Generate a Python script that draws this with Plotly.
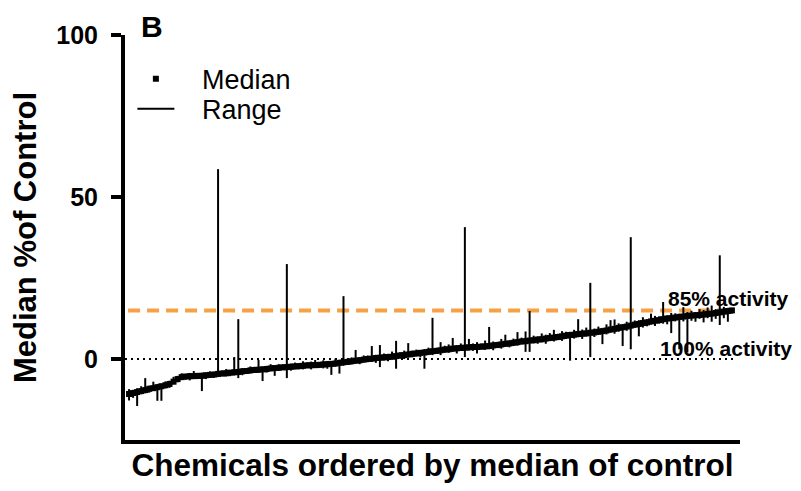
import plotly.graph_objects as go

# ---- data ----
median_pct = [
    -10.8, -10.5, -10.2, -9.9, -9.6, -9.2, -9.0, -8.7, -8.4, -8.1,
    -7.7, -7.0, -6.2, -5.6, -5.4, -5.3, -5.3, -5.2, -5.2, -5.0,
    -4.9, -4.8, -4.6, -4.5, -4.4, -4.2, -4.1, -4.0, -3.8, -3.7,
    -3.5, -3.4, -3.3, -3.2, -3.1, -2.9, -2.8, -2.7, -2.6, -2.5,
    -2.4, -2.3, -2.2, -2.1, -2.0, -1.9, -1.9, -1.8, -1.7, -1.6,
    -1.5, -1.4, -1.2, -1.0, -0.9, -0.7, -0.5, -0.4, -0.2, 0.0,
    0.1, 0.3, 0.4, 0.5, 0.6, 0.7, 0.9, 1.1, 1.2, 1.4,
    1.6, 1.7, 1.9, 2.0, 2.2, 2.4, 2.5, 2.7, 2.9, 3.0,
    3.2, 3.3, 3.4, 3.5, 3.6, 3.7, 3.7, 3.8, 3.9, 4.0,
    4.2, 4.3, 4.5, 4.7, 4.8, 5.0, 5.2, 5.4, 5.5, 5.7,
    5.8, 6.0, 6.1, 6.3, 6.5, 6.6, 6.8, 7.0, 7.2, 7.4,
    7.5, 7.7, 7.8, 7.9, 8.1, 8.2, 8.4, 8.6, 8.8, 9.1,
    9.3, 9.6, 9.8, 10.0, 10.3, 10.6, 10.8, 11.1, 11.3, 11.6,
    11.8, 12.0, 12.3, 12.5, 12.6, 12.8, 13.0, 13.1, 13.3, 13.4,
    13.5, 13.6, 13.7, 13.9, 14.0, 14.2, 14.4, 14.6, 14.8, 15.0,
]

range_above = [
    1.5, 1.0, 1.2, 1.5, 3.7, 1.0, 2.0, 1.0, 0.8, 1.2,
    1.0, 1.5, 1.0, 1.2, 0.8, 1.0, 1.6, 0.9, 1.0, 0.8,
    1.1, 0.9, 63.2, 1.0, 1.3, 0.8, 4.7, 16.3, 1.0, 0.9,
    1.2, 1.0, 3.0, 0.9, 1.0, 1.3, 0.8, 1.1, 1.0, 31.8,
    1.0, 1.2, 0.9, 1.4, 1.0, 1.1, 1.6, 0.9, 1.3, 1.0,
    0.9, 1.5, 1.0, 20.4, 1.0, 1.2, 3.3, 1.0, 1.3, 1.1,
    3.9, 1.0, 3.9, 1.2, 1.0, 1.6, 4.7, 1.0, 1.4, 3.5,
    1.0, 1.2, 0.9, 1.1, 1.3, 10.3, 1.0, 2.5, 1.2, 1.5,
    3.3, 1.0, 1.4, 37.2, 2.6, 1.1, 1.5, 1.0, 1.8, 5.9,
    1.2, 1.0, 1.7, 2.8, 1.0, 1.3, 3.1, 1.2, 3.0, 9.1,
    1.4, 1.0, 1.8, 1.2, 1.5, 2.4, 1.0, 1.6, 1.2, 1.0,
    1.5, 4.6, 1.3, 1.8, 15.4, 1.2, 1.6, 1.0, 1.9, 2.9,
    2.9, 1.4, 1.0, 1.5, 27.3, 1.3, 1.2, 1.8, 1.0, 2.4,
    1.5, 1.2, 5.3, 1.0, 1.6, 1.3, 1.0, 2.9, 1.2, 1.5,
    1.0, 1.8, 1.4, 2.0, 2.5, 1.2, 17.6, 1.5, 1.0, 0.8,
]

range_below = [
    2.0, 1.5, 4.3, 1.0, 1.0, 1.2, 0.8, 4.2, 4.5, 1.0,
    1.2, 0.8, 1.0, 0.9, 1.0, 1.3, 0.8, 1.0, 4.7, 1.2,
    0.9, 1.0, 1.0, 0.8, 1.0, 1.1, 1.0, 1.9, 1.2, 0.8,
    1.0, 0.9, 1.0, 3.6, 1.1, 0.9, 2.4, 1.0, 0.8, 3.4,
    1.2, 0.9, 1.0, 1.1, 0.8, 1.3, 0.9, 1.0, 1.2, 1.4,
    3.4, 1.0, 3.3, 1.1, 0.9, 1.0, 1.0, 1.2, 0.9, 1.0,
    1.0, 1.5, 2.9, 1.0, 1.3, 0.9, 3.9, 1.0, 1.2, 1.0,
    1.1, 0.9, 1.4, 5.0, 1.0, 1.2, 0.9, 1.5, 1.0, 1.1,
    1.0, 1.6, 0.9, 2.9, 1.0, 1.2, 2.0, 0.9, 1.1, 1.0,
    1.5, 0.9, 1.3, 1.0, 1.2, 1.0, 1.1, 0.9, 3.3, 3.5,
    1.0, 1.3, 1.0, 1.6, 1.0, 1.2, 1.0, 1.4, 1.0, 7.9,
    1.2, 1.0, 1.6, 1.0, 7.5, 1.4, 1.0, 4.0, 1.2, 1.0,
    1.5, 1.2, 5.8, 1.3, 7.3, 1.0, 3.8, 1.4, 1.2, 1.0,
    1.6, 1.1, 1.4, 1.8, 4.6, 1.2, 10.0, 1.5, 11.3, 1.6,
    2.0, 1.2, 2.4, 1.3, 2.5, 1.8, 3.9, 2.0, 3.3, 1.0,
]

activity_levels = [15, 0]          # 85% activity, 100% activity lines (% of control)
activity_labels = ["85% activity", "100% activity"]
y_ticks = [0, 50, 100]

# ---- derived ----
chem_index = list(range(1, len(median_pct) + 1))
range_min = [m - b for m, b in zip(median_pct, range_below)]
range_max = [m + a for m, a in zip(median_pct, range_above)]

rx, ry = [], []
for i, lo, hi in zip(chem_index, range_min, range_max):
    rx += [i, i, None]
    ry += [lo, hi, None]

FONT = "Arial, Liberation Sans, sans-serif"
NB = "\u00a0"

fig = go.Figure()

fig.add_trace(go.Scatter(
    x=rx, y=ry, mode="lines", name=NB * 3 + "Range", legend="legend2",
    line=dict(color="black", width=2), hoverinfo="skip",
))
fig.add_trace(go.Scatter(
    x=chem_index, y=median_pct, mode="markers", name=NB * 3 + "Median", legend="legend",
    marker=dict(symbol="square", size=6, color="black", line=dict(width=0)),
))

# reference lines
fig.add_shape(type="line", xref="paper", x0=0.005, x1=0.99, yref="y",
              y0=activity_levels[0], y1=activity_levels[0],
              line=dict(color="#F7A145", width=4, dash="12px,7px"), layer="below")
fig.add_shape(type="line", xref="paper", x0=0.0, x1=0.99, yref="y",
              y0=activity_levels[1], y1=activity_levels[1],
              line=dict(color="black", width=2, dash="2px,4px"), layer="below")

fig.add_annotation(text="<b>" + activity_labels[0] + "</b>", xref="paper", x=1.083,
                   xanchor="right", yref="y", y=activity_levels[0] + 3.8, yanchor="middle",
                   showarrow=False, font=dict(size=21, color="black", family=FONT))
fig.add_annotation(text="<b>" + activity_labels[1] + "</b>", xref="paper", x=1.088,
                   xanchor="right", yref="y", y=activity_levels[1] + 3.1, yanchor="middle",
                   showarrow=False, font=dict(size=21, color="black", family=FONT))

fig.add_annotation(text="<b>B</b>", xref="paper", x=0.022, xanchor="left",
                   yref="paper", y=1.02, yanchor="middle", showarrow=False,
                   font=dict(size=30, color="black", family=FONT))

legend_common = dict(xanchor="left", yanchor="middle",
                     font=dict(size=27, family=FONT, color="black"),
                     bgcolor="rgba(0,0,0,0)", itemwidth=37, tracegroupgap=0)

# page body has an 8px margin: figure is 8px smaller so the plot sits where the reference does
fig.update_layout(
    width=793, height=483,
    margin=dict(l=117, r=61, t=27, b=51, autoexpand=False),
    paper_bgcolor="white", plot_bgcolor="white",
    font=dict(family=FONT, color="black"),
    showlegend=True,
    legend=dict(x=0.012, y=0.891, **legend_common),
    legend2=dict(x=0.012, y=0.817, **legend_common),
    xaxis=dict(range=[0, 152], showgrid=False, zeroline=False,
               showticklabels=False, ticks="", automargin=False,
               showline=True, linecolor="black", linewidth=4,
               title=dict(text="<b>Chemicals ordered by median of control</b>",
                          font=dict(size=31.5, family=FONT, color="black"), standoff=12)),
    yaxis=dict(range=[-25, 100], showgrid=False, zeroline=False, automargin=False,
               tickvals=y_ticks, ticktext=["<b>%d</b>" % v for v in y_ticks],
               ticks="outside", ticklen=10, tickwidth=4, tickcolor="black",
               ticklabelstandoff=8,
               tickfont=dict(size=25, family=FONT, color="black"),
               showline=True, linecolor="black", linewidth=4,
               title=dict(text="<b>Median %of Control</b>",
                          font=dict(size=31, family=FONT, color="black"), standoff=14)),
)

fig.write_html("out.html")
